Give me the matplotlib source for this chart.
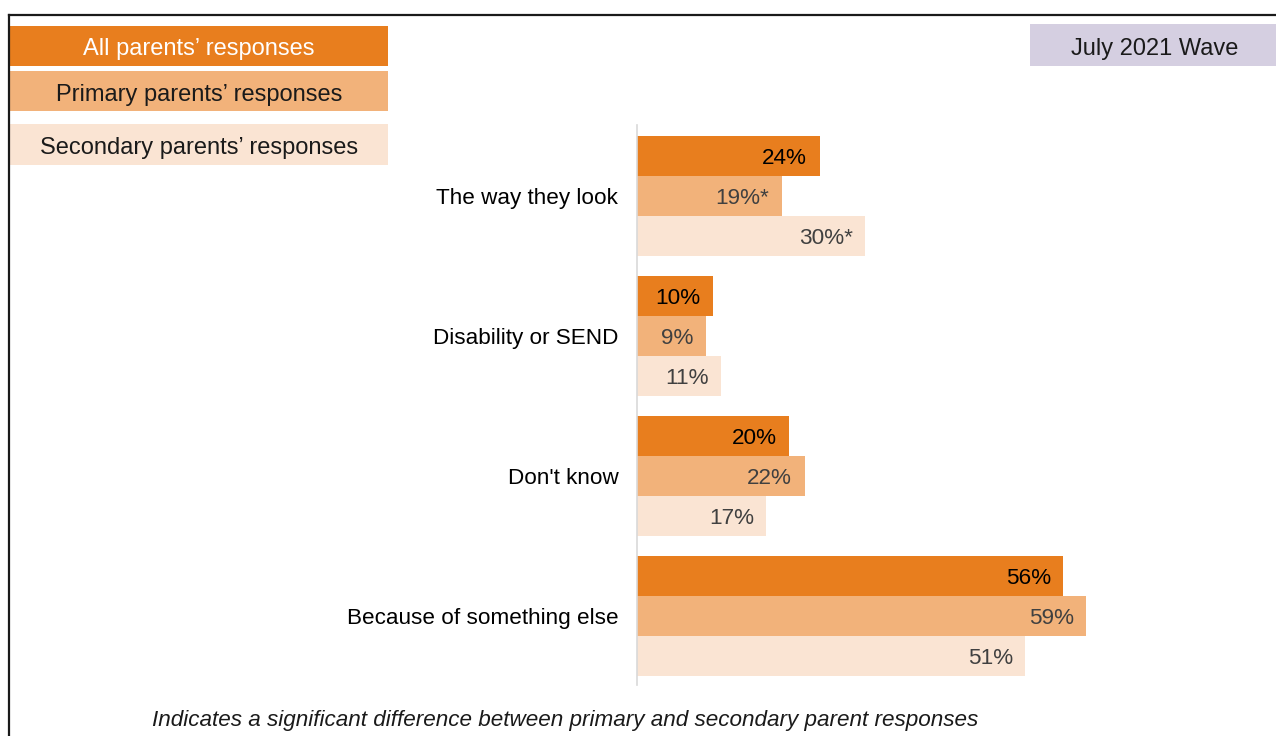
import matplotlib

matplotlib.use("Agg")
import matplotlib.pyplot as plt
from matplotlib.patches import Rectangle
import numpy as np

plt.rcParams["font.family"] = ["Liberation Sans", "DejaVu Sans"]

categories = ["The way they look", "Disability or SEND", "Don't know", "Because of something else"]
series_names = ["All parents\u2019 responses", "Primary parents\u2019 responses", "Secondary parents\u2019 responses"]
all_parents = [24, 10, 20, 56]
primary = [19, 9, 22, 59]
secondary = [30, 11, 17, 51]
primary_labels = ["19%*", "9%", "22%", "59%"]
secondary_labels = ["30%*", "11%", "17%", "51%"]
all_labels = ["24%", "10%", "20%", "56%"]

colors = ["#E87E1E", "#F2B27A", "#FAE4D3"]
label_colors = ["#000000", "#404040", "#404040"]

W, H = 1276, 736
fig = plt.figure(figsize=(W / 100, H / 100), dpi=100)


def fx(px):
    return px / W


def fy(py):
    return 1 - py / H


# outer frame (top and left edges visible)
fig.add_artist(plt.Line2D([fx(9), 1.0], [fy(15), fy(15)], color="#1a1a1a", lw=1.6))
fig.add_artist(plt.Line2D([fx(9), fx(9)], [fy(15), 0.0], color="#1a1a1a", lw=1.6))

ax = fig.add_axes([fx(637), fy(685), fx(533), 560 / H])
h = 40 / 140
y = np.arange(len(categories))
series = [all_parents, primary, secondary]
labels = [all_labels, primary_labels, secondary_labels]
for k, (vals, labs) in enumerate(zip(series, labels)):
    pos = y + (k - 1) * h
    ax.barh(pos, vals, height=h, color=colors[k], edgecolor="none")
    for p, v, lab in zip(pos, vals, labs):
        ax.annotate(lab, (v, p), xytext=(-9, 0), textcoords="offset points",
                    ha="right", va="center_baseline", fontsize=16.2, color=label_colors[k])

ax.set_xlim(0, 70)
ax.set_ylim(3.493, -0.507)
ax.set_yticks(y)
ax.set_yticklabels(categories, fontsize=16.2, va="center_baseline")
ax.tick_params(axis="y", length=0, pad=13.5)
ax.set_xticks([])
for side in ["top", "right", "bottom"]:
    ax.spines[side].set_visible(False)
ax.spines["left"].set_color("#D9D9D9")
ax.spines["left"].set_linewidth(1.2)

# legend boxes
legend_boxes = [(26, 66), (71, 111), (124, 165)]
legend_text_colors = ["white", "#1a1a1a", "#1a1a1a"]
for (top, bot), name, c, tc in zip(legend_boxes, series_names, colors, legend_text_colors):
    fig.add_artist(Rectangle((fx(10), fy(bot)), fx(378), (bot - top) / H,
                             facecolor=c, edgecolor="none"))
    fig.text(fx(199), fy((top + bot) / 2 + 1), name, ha="center", va="center_baseline",
             fontsize=17, color=tc)

# wave tag
fig.add_artist(Rectangle((fx(1030), fy(66)), fx(246), 42 / H,
                         facecolor="#D5CFE1", edgecolor="none"))
fig.text(fx(1155), fy(47), "July 2021 Wave", ha="center", va="center_baseline",
         fontsize=17, color="#1a1a1a")

fig.text(fx(565), fy(718), "Indicates a significant difference between primary and secondary parent responses",
         ha="center", va="center_baseline", fontsize=16.2, style="italic", color="#1a1a1a")

fig.savefig("out.png", dpi=100)
